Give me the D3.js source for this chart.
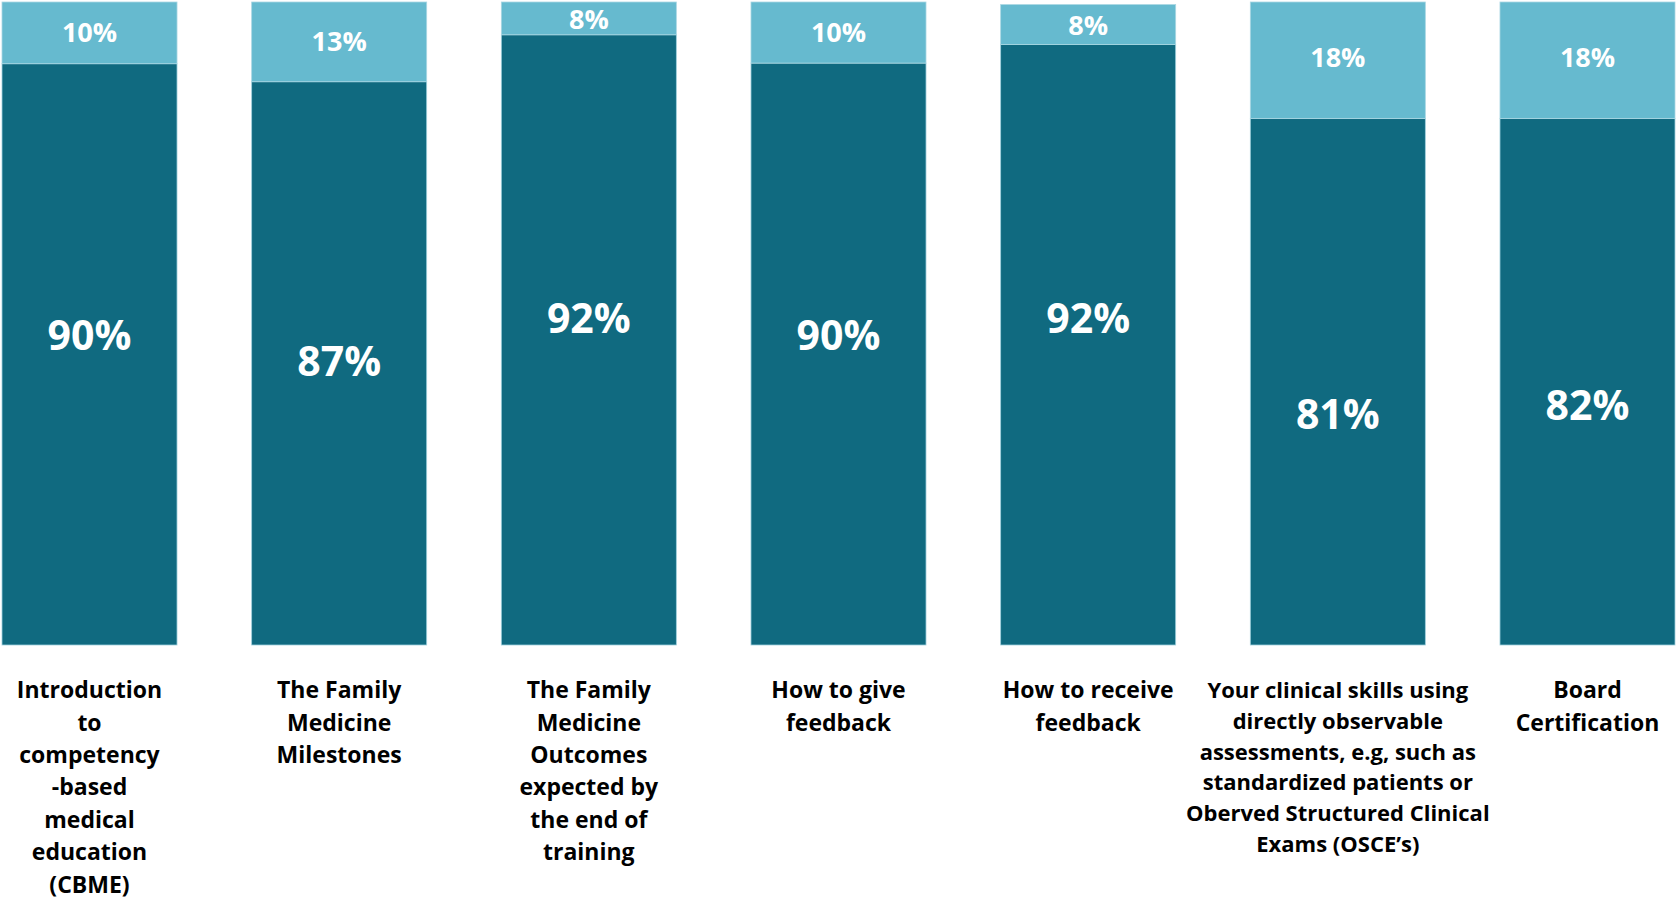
<!DOCTYPE html>
<html>
<head>
<meta charset="utf-8">
<script src="https://cdn.jsdelivr.net/npm/d3@7/dist/d3.min.js"></script>
<style>
  html, body { margin: 0; padding: 0; background: #ffffff; }
  svg { display: block; }
  text { font-family: "Open Sans", "Noto Sans", sans-serif; font-weight: 700; }
</style>
</head>
<body>
<svg id="chart" width="1677" height="901"></svg>
<script>
// ---- Data ----
const categories = [
  "Introduction|to|competency|-based|medical|education|(CBME)",
  "The Family|Medicine|Milestones",
  "The Family|Medicine|Outcomes|expected by|the end of|training",
  "How to give|feedback",
  "How to receive|feedback",
  "Your clinical skills using|directly observable|assessments, e.g, such as|standardized patients or|Oberved Structured Clinical|Exams (OSCE\u2019s)",
  "Board|Certification"
];
// bar segment sizes as drawn (percent of full bar height)
const darkValues  = [90.4, 87.6, 94.9, 90.5, 93.4, 81.9, 81.9];
const lightValues = [9.6, 12.4, 5.1, 9.5, 6.2, 18.1, 18.1];
// printed labels
const darkLabels  = [90, 87, 92, 90, 92, 81, 82];
const lightLabels = [10, 13, 8, 10, 8, 18, 18];

// ---- Layout ----
const plotTop = 2, plotBottom = 645;
const darkColor = "#106A80", lightColor = "#66BACF";

const svg = d3.select("#chart");

const x = d3.scaleBand()
  .domain(categories)
  .range([2, 1675])
  .paddingInner(0.299)
  .paddingOuter(0);

const y = d3.scaleLinear().domain([0, 100]).range([plotBottom, plotTop]);

// position of the big in-bar labels follows the printed value
const darkLabelY = d3.scaleLinear().domain([81, 92]).range([414, 318]);

const rows = categories.map((c, i) => ({
  cat: c, dark: darkValues[i], light: lightValues[i],
  dl: darkLabels[i], ll: lightLabels[i], i
}));

const g = svg.append("g");

// dark segments
g.selectAll("rect.dark").data(rows).join("rect")
  .attr("class", "dark")
  .attr("x", d => x(d.cat))
  .attr("width", x.bandwidth())
  .attr("y", d => y(d.dark))
  .attr("height", d => y(0) - y(d.dark))
  .attr("fill", darkColor)
  .attr("stroke", "#9fcfdc")
  .attr("stroke-width", 0.8);

// light segments
g.selectAll("rect.light").data(rows).join("rect")
  .attr("class", "light")
  .attr("x", d => x(d.cat))
  .attr("width", x.bandwidth())
  .attr("y", d => y(d.dark + d.light))
  .attr("height", d => y(d.dark) - y(d.dark + d.light))
  .attr("fill", lightColor)
  .attr("stroke", "#a9d7e3")
  .attr("stroke-width", 0.8);

// light labels
g.selectAll("text.ll").data(rows).join("text")
  .attr("class", "ll")
  .attr("x", d => x(d.cat) + x.bandwidth() / 2)
  .attr("y", d => {
    const top = y(d.dark + d.light), seg = y(d.dark) - top;
    return top + seg * 0.45 + 3;
  })
  .attr("dy", "0.36em")
  .attr("text-anchor", "middle")
  .attr("fill", "#ffffff")
  .attr("font-size", 27)
  .text(d => d.ll + "%");

// dark labels
g.selectAll("text.dl").data(rows).join("text")
  .attr("class", "dl")
  .attr("x", d => x(d.cat) + x.bandwidth() / 2)
  .attr("y", d => darkLabelY(d.dl))
  .attr("dy", "0.36em")
  .attr("text-anchor", "middle")
  .attr("fill", "#ffffff")
  .attr("font-size", 41)
  .text(d => d.dl + "%");

// category labels
const labels = g.selectAll("text.cat").data(rows).join("text")
  .attr("class", "cat")
  .attr("text-anchor", "middle")
  .attr("fill", "#000000")
  .attr("font-size", d => d.i === 5 ? 22 : 23);

labels.each(function(d) {
  const lines = d.cat.split("|");
  const lh = d.i === 5 ? 30.8 : 32.4;
  const cx = x(d.cat) + x.bandwidth() / 2;
  d3.select(this).selectAll("tspan").data(lines).join("tspan")
    .attr("x", cx)
    .attr("y", (l, k) => 690 + k * lh)
    .attr("dy", "0.36em")
    .text(l => l);
});
</script>
</body>
</html>
